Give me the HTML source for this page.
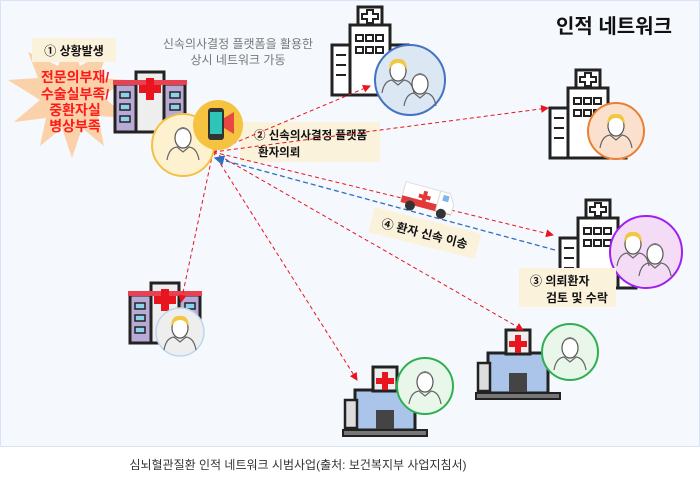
<!DOCTYPE html>
<html><head><meta charset="utf-8"><style>
html,body{margin:0;padding:0;background:#fff;}
svg{display:block}
text{font-family:"Liberation Sans","Noto Sans CJK KR",sans-serif;}
</style></head><body>
<svg width="700" height="483" viewBox="0 0 700 483" xmlns="http://www.w3.org/2000/svg">
<defs>
<marker id="ar" markerWidth="8" markerHeight="8" refX="7" refY="4" orient="auto"><path d="M0,0 L8,4 L0,8z" fill="#e8141e"/></marker>
<marker id="ab" markerWidth="8" markerHeight="8" refX="7" refY="4" orient="auto"><path d="M0,0 L8,4 L0,8z" fill="#2f6fc0"/></marker>
<g id="doc"><ellipse cx="0" cy="-4" rx="8" ry="10" fill="#fff" stroke="#555" stroke-width="1.2"/><path d="M-8,-8 Q0,-18 8,-8 Q6,-14 0,-15 Q-6,-14 -8,-8z" fill="#777"/><path d="M-16,18 Q-14,6 -6,5 L0,10 L6,5 Q14,6 16,18" fill="none" stroke="#666" stroke-width="1.2"/></g>
<g id="docf"><ellipse cx="0" cy="-4" rx="8" ry="10" fill="#fff" stroke="#555" stroke-width="1.2"/><path d="M-9,-4 Q-9,-17 0,-16 Q9,-17 9,-4 Q6,-12 0,-12 Q-6,-12 -9,-4z" fill="#f2c744"/><path d="M-16,18 Q-14,6 -6,5 L0,10 L6,5 Q14,6 16,18" fill="none" stroke="#666" stroke-width="1.2"/></g>
<g id="hospB"><rect x="-30" y="-5" width="60" height="40" fill="#aac4ea" stroke="#222" stroke-width="3"/><rect x="-40" y="5" width="12" height="28" fill="#ddd" stroke="#222" stroke-width="2.5"/><rect x="-12" y="-28" width="24" height="24" fill="#eee" stroke="#222" stroke-width="3"/><path d="M-3,-23h6v6h6v6h-6v6h-6v-6h-6v-6h6z" fill="#e8141e"/><rect x="-9" y="15" width="18" height="20" fill="#444"/><rect x="-42" y="35" width="84" height="6" fill="#777" stroke="#222" stroke-width="2"/></g>
<g id="hospP"><rect x="-35" y="-10" width="70" height="48" fill="#b9a9d6" stroke="#222" stroke-width="3"/><rect x="-14" y="-22" width="28" height="60" fill="#eee" stroke="#222" stroke-width="3"/><rect x="-37" y="-14" width="74" height="5" fill="#e84152"/><path d="M-4,-16h8v7h7v8h-7v7h-8v-7h-7v-8h7z" fill="#e8141e"/><g fill="#8ed1ea" stroke="#222" stroke-width="1.5"><rect x="-30" y="-2" width="10" height="6"/><rect x="-30" y="10" width="10" height="6"/><rect x="-30" y="22" width="10" height="6"/><rect x="20" y="-2" width="10" height="6"/><rect x="20" y="10" width="10" height="6"/></g></g>
<g id="hospW"><rect x="-20" y="-20" width="40" height="70" fill="#fff" stroke="#222" stroke-width="3"/><rect x="-38" y="0" width="18" height="50" fill="#fff" stroke="#222" stroke-width="3"/><rect x="20" y="0" width="18" height="50" fill="#fff" stroke="#222" stroke-width="3"/><rect x="-12" y="-38" width="24" height="18" fill="#fff" stroke="#222" stroke-width="3"/><path d="M-3,-35h6v4h5v5h-5v4h-6v-4h-5v-5h5z" fill="none" stroke="#222" stroke-width="2"/><g fill="none" stroke="#222" stroke-width="2"><rect x="-14" y="-10" width="7" height="6"/><rect x="-4" y="-10" width="7" height="6"/><rect x="6" y="-10" width="7" height="6"/><rect x="-14" y="2" width="7" height="6"/><rect x="-4" y="2" width="7" height="6"/><rect x="6" y="2" width="7" height="6"/><path d="M-34,10h10M-34,20h10M-34,30h10"/></g></g>
</defs>
<rect x="0" y="0" width="700" height="447" fill="#f5f9fe"/>
<rect x="0.5" y="0.5" width="699" height="446" fill="none" stroke="#d6e4f5"/>

<path d="M70,38 L80,66 L108,50 L98,78 L128,80 L102,96 L128,118 L98,116 L104,146 L82,128 L72,158 L62,128 L40,146 L46,118 L14,122 L40,100 L8,80 L38,78 L28,52 L58,66 Z" fill="#fad1a8"/>
<rect x="32" y="38" width="84" height="24" fill="#fbf2dc"/>
<text x="74" y="55" font-size="12" font-weight="bold" text-anchor="middle" fill="#111">① 상황발생</text>
<g font-size="14" font-weight="bold" fill="#ff1a1a" text-anchor="middle">
<text x="75" y="82">전문의부재/</text><text x="75" y="99">수술실부족/</text><text x="75" y="115">중환자실</text><text x="75" y="131">병상부족</text></g>

<text x="238" y="48" font-size="12" fill="#777" text-anchor="middle">신속의사결정 플랫폼을 활용한</text>
<text x="238" y="64" font-size="12" fill="#777" text-anchor="middle">상시 네트워크 가동</text>
<text x="614" y="33" font-size="20" font-weight="bold" fill="#111" text-anchor="middle">인적 네트워크</text>

<use href="#hospP" x="150" y="94"/>
<use href="#hospW" x="370" y="45"/>
<use href="#hospW" x="588" y="108"/>
<use href="#hospW" x="598" y="238"/>
<use href="#hospP" x="165" y="305"/>
<use href="#hospB" x="385" y="395"/>
<use href="#hospB" x="518" y="358"/>

<rect x="240" y="122" width="140" height="40" fill="#fbf2dc"/>
<text x="254" y="139" font-size="11.5" font-weight="bold" fill="#111">② 신속의사결정 플랫폼</text>
<text x="258" y="156" font-size="11.5" font-weight="bold" fill="#111">환자의뢰</text>

<g stroke="#e8141e" stroke-width="1" stroke-dasharray="4,3" fill="none">
<line x1="213" y1="152" x2="370" y2="86" marker-end="url(#ar)"/>
<line x1="213" y1="152" x2="548" y2="108" marker-end="url(#ar)"/>
<line x1="213" y1="152" x2="553" y2="235" marker-end="url(#ar)"/>
<line x1="213" y1="152" x2="523" y2="330" marker-end="url(#ar)"/>
<line x1="213" y1="152" x2="357" y2="380" marker-end="url(#ar)"/>
<line x1="213" y1="152" x2="181" y2="302" marker-end="url(#ar)"/>
</g>
<line x1="555" y1="250" x2="215" y2="158" stroke="#2f6fc0" stroke-width="1.3" stroke-dasharray="5,3" marker-end="url(#ab)"/>

<circle cx="183" cy="145" r="31" fill="#fdf1cf" stroke="#f2c244" stroke-width="2"/>
<use href="#doc" x="183" y="142"/>
<circle cx="218" cy="125" r="25" fill="#f5c33f"/>
<rect x="208" y="108" width="16" height="32" rx="3" fill="#333"/><rect x="210" y="112" width="12" height="22" fill="#2ec4b6"/><path d="M224,118 L234,112 L234,134 L224,128z" fill="#e94545"/>
<circle cx="410" cy="80" r="35" fill="#dce7f4" stroke="#4472c4" stroke-width="2"/>
<use href="#docf" x="398" y="75"/><use href="#doc" x="420" y="88"/>
<circle cx="616" cy="131" r="28" fill="#fbe1cd" stroke="#ed7d31" stroke-width="2"/>
<use href="#docf" x="616" y="130"/>
<circle cx="646" cy="252" r="36" fill="#f4dcf6" stroke="#a020f0" stroke-width="2"/>
<use href="#docf" x="633" y="248"/><use href="#doc" x="655" y="258"/>
<circle cx="180" cy="332" r="24" fill="#eee" stroke="#bcd6ef" stroke-width="1.5"/>
<use href="#docf" x="180" y="332"/>
<circle cx="425" cy="386" r="28" fill="#e9f6ea" stroke="#2eb050" stroke-width="2"/>
<use href="#doc" x="425" y="386"/>
<circle cx="570" cy="352" r="28" fill="#e9f6ea" stroke="#2eb050" stroke-width="2"/>
<use href="#doc" x="570" y="352"/>

<g transform="translate(428,200) rotate(15)"><rect x="-26" y="-12" width="36" height="20" fill="#fff" stroke="#ddd"/><rect x="-26" y="2" width="52" height="7" fill="#e23a3a"/><path d="M10,-12 L20,-12 L26,-2 L26,8 L10,8z" fill="#fff" stroke="#ddd"/><rect x="14" y="-9" width="6" height="6" fill="#7fb6e8"/><path d="M-6,-8h4v4h4v4h-4v4h-4v-4h-4v-4h4z" fill="#e23a3a"/><circle cx="-16" cy="10" r="5" fill="#333"/><circle cx="16" cy="10" r="5" fill="#333"/></g>
<g transform="translate(425,232) rotate(14)"><rect x="-55" y="-12" width="110" height="26" fill="#fbf2dc"/><text x="0" y="6" font-size="12" font-weight="bold" text-anchor="middle" fill="#111">④ 환자 신속 이송</text></g>

<rect x="519" y="268" width="97" height="39" fill="#fbf2dc"/>
<text x="530" y="285" font-size="12" font-weight="bold" fill="#111">③ 의뢰환자</text>
<text x="546" y="302" font-size="12" font-weight="bold" fill="#111">검토 및 수락</text>

<text x="298" y="469" font-size="12" fill="#333" text-anchor="middle">심뇌혈관질환 인적 네트워크 시범사업(출처: 보건복지부 사업지침서)</text>
</svg>
</body></html>
